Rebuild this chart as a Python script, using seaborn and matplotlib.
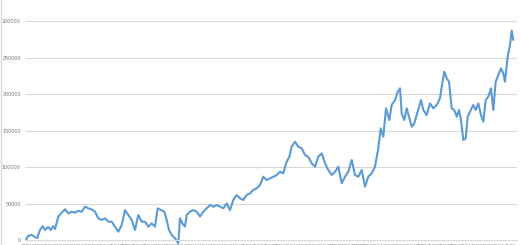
import matplotlib
matplotlib.use("Agg")
import matplotlib.pyplot as plt
from matplotlib.lines import Line2D
import seaborn as sns
import numpy as np
import pandas as pd

# time index (arbitrary units) and cumulative value
t = [0, 2, 5.7, 9, 11.3, 14, 16.7, 19, 22.3, 24.7, 27.3, 29, 32.3, 35.7, 39, 42.3, 45.7, 49, 52.3, 55.7,
     59, 62.3, 65.7, 69, 72.3, 75.7, 79, 82.3, 85.7, 89, 92.3, 95.7, 99, 102.3, 105.7, 109, 112.3, 115.7,
     119, 122.3, 125.7, 129, 131.7, 135, 138.3, 140.7, 143, 145.7, 149, 152.3, 154, 156.3, 159, 160.7,
     164, 167.3, 170.7, 174, 177.3, 180.7, 184, 187.3, 190.7, 194, 197.3, 200.7, 204, 207.3, 210.7, 214,
     217.3, 220.7, 224, 227.3, 230.7, 234, 237.3, 240.7,
     244, 247.3, 250.7, 254, 257.3, 260, 263.3, 265.7, 269, 272.3, 275.7, 279, 282.3, 285.7, 289, 292.3,
     295.7, 299, 302.3, 305.7, 309, 312.3, 315.7, 319, 322.3, 325.7, 329, 332.3, 335.7, 339, 342.3, 345.7,
     349, 352.3, 354.7, 357.3, 360, 363.3, 365.7,
     369, 371.7, 374, 375.7, 378.3, 380.7, 383, 385.7, 388.3, 391.7, 395, 397.3, 400.7, 404, 407.3, 410.7,
     414, 415.7, 418.3, 420.7, 423, 425.7, 428.3, 430.7, 433, 435, 437.3, 439.7, 441.7, 444, 447.3, 449.7,
     452.3, 455, 457.3, 459.7, 462.3, 465, 467.3, 469.7, 472.3, 475, 477.3, 479, 481.7, 484, 485.7, 487.3]

values = [0, 5500, 7000, 4000, 2700, 13700, 19000, 13700, 17800, 13700, 19000, 15000, 32000, 37400, 42000,
          36500, 38800, 37400, 40000, 38800, 45600, 43400, 42000, 38800, 29700, 27400, 29700, 25100, 25100,
          18300, 11400, 20500, 41000, 34200, 27400, 13700, 34200, 25100,
          25100, 18300, 22800, 18300, 43400, 41000, 38800, 27400, 13700, 6800, 2300, -4500, 29700, 22800,
          18300, 34200, 38800, 41000, 38800, 32000, 38800, 43400, 47900, 45600, 47900, 45600, 43400, 50200,
          41000, 54800, 61600, 57100, 54800, 61600, 63900, 68500, 70800, 75300, 86700, 82200,
          84500, 86700, 89000, 93600, 91300, 105000, 114000, 127800, 134600, 127800, 125600, 116400, 114000,
          105000, 100400, 114000, 118700, 105000, 95900, 89000, 93600, 100400, 77600, 86700, 93600, 109600,
          89000, 86700, 95900, 73000, 86700, 91300, 100400, 125600, 153000, 141500, 180400, 164400, 185000,
          191800, 203200, 207800, 173500, 164400, 180400, 168900, 155200, 159800, 175800, 191800, 178100,
          171200, 187200, 180400, 185000, 194100, 210000, 230600, 221500, 216900, 180400, 178100, 168900,
          178100, 164400, 137000, 139300, 168900, 175800, 185000, 178100, 187200, 171200, 162100, 191800,
          196300, 207800, 178100, 216900, 226000, 235200, 228300, 216900, 251100, 267100, 287000, 274000]

y_ticks = [0, 50000, 100000, 150000, 200000, 250000, 300000]
x_tick_labels = [f"{i // 4:02d}Q{i % 4 + 1}" for i in range(45)]

df = pd.DataFrame({"t": t, "value": values})

sns.set_style("white")
plt.rcParams["font.family"] = ["Liberation Sans", "DejaVu Sans"]

W, H = 520, 245
fig = plt.figure(figsize=(W / 100, H / 100), dpi=100)
fig.patch.set_facecolor("white")
ax = fig.add_axes([25 / W, 0, (517 - 25) / W, 1])

sns.lineplot(data=df, x="t", y="value", ax=ax, color="#5B9BD5", linewidth=1.5)

ax.set_xlim(-1, 491)
ax.set_ylim(-6850, 328800)
ax.set_yticks(y_ticks)
ax.set_yticklabels([str(v) for v in y_ticks])
ax.yaxis.grid(True, color="#d9d9d9", linewidth=0.8)
ax.set_axisbelow(True)

xt = np.linspace(0.7, 484, len(x_tick_labels))
ax.set_xticks(xt)
ax.set_xticklabels(x_tick_labels, rotation=45, ha="right", rotation_mode="anchor")

for s in ["top", "right", "left"]:
    ax.spines[s].set_visible(False)
ax.spines["bottom"].set_position(("data", 0))
ax.spines["bottom"].set_color("#d9d9d9")
ax.spines["bottom"].set_linewidth(0.8)

ax.tick_params(axis="y", length=0, pad=3, labelsize=4, labelcolor="#7f7f7f")
ax.tick_params(axis="x", length=2, width=0.5, color="#d9d9d9", pad=1, labelsize=3.5, labelcolor="#7f7f7f")
ax.set_xlabel("")
ax.set_ylabel("")

fig.add_artist(Line2D([0.8 / W, 0.8 / W], [0, 1], color="#d9d9d9", linewidth=1, transform=fig.transFigure))

fig.savefig("out.png", dpi=100)
